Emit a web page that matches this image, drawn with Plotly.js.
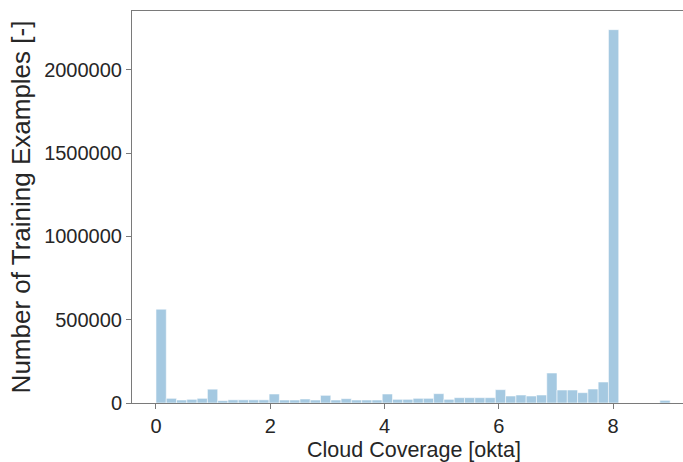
<!DOCTYPE html>
<html>
<head>
<meta charset="utf-8">
<script src="https://cdn.plot.ly/plotly-3.0.1.min.js"></script>
<style>
  html, body { margin: 0; padding: 0; background: #fff; }
  #chart { width: 683px; height: 462px; }
</style>
</head>
<body>
<div id="chart"></div>
<script>
// Histogram of cloud coverage observations: 50 equal bins over 0..9 okta
const binStart = 0;
const binEnd = 9;
const binCount = 50;

// Number of training examples in each bin
const counts = [
  563000, 28000, 18000, 22000, 28000, 83000, 14000, 19000, 19000, 19000,
  19000, 54000, 18000, 18000, 24000, 18000, 46000, 18000, 26000, 18000,
  18000, 18000, 54000, 22000, 22000, 28000, 28000, 56000, 22000, 32000,
  32000, 32000, 32000, 80000, 42000, 48000, 42000, 48000, 180000, 78000,
  78000, 62000, 84000, 126000, 2240000, 0, 0, 0, 0, 16000
];

const xTickVals = [0, 2, 4, 6, 8];
const xTickText = ['0', '2', '4', '6', '8'];
const yTickVals = [0, 500000, 1000000, 1500000, 2000000];
const yTickText = ['0', '500000', '1000000', '1500000', '2000000'];
const xTitle = 'Cloud Coverage [okta]';
const yTitle = 'Number of Training Examples [-]';

const binWidth = (binEnd - binStart) / binCount;
const binLeft = counts.map((_, i) => binStart + i * binWidth);

const textColor = '#262626';
const spineColor = '#7a7a7a';
const fontFamily = 'Liberation Sans, Arial, sans-serif';

const trace = {
  type: 'bar',
  x: binLeft,
  y: counts,
  width: binWidth,
  offset: 0,
  marker: {
    color: 'rgba(31,119,180,0.4)',
    line: { color: 'rgba(255,255,255,0.55)', width: 1 }
  },
  hoverinfo: 'x+y'
};

const layout = {
  width: 683,
  height: 462,
  margin: { l: 132, r: 0, t: 11, b: 59, pad: 0 },
  paper_bgcolor: '#ffffff',
  plot_bgcolor: '#ffffff',
  showlegend: false,
  bargap: 0,
  font: { family: fontFamily, color: textColor },
  xaxis: {
    range: [-0.42, 9.225],
    tickmode: 'array',
    tickvals: xTickVals,
    ticktext: xTickText,
    ticks: 'outside',
    ticklen: 5,
    tickwidth: 1,
    tickcolor: spineColor,
    tickfont: { size: 20, color: textColor },
    showgrid: false,
    zeroline: false,
    showline: true,
    linecolor: spineColor,
    linewidth: 1,
    mirror: true
  },
  yaxis: {
    range: [0, 2352000],
    tickmode: 'array',
    tickvals: yTickVals,
    ticktext: yTickText,
    ticks: 'outside',
    ticklen: 5,
    tickwidth: 1,
    tickcolor: spineColor,
    tickfont: { size: 20, color: textColor },
    showgrid: false,
    zeroline: false,
    showline: true,
    linecolor: spineColor,
    linewidth: 1,
    title: { text: yTitle, font: { size: 26, color: textColor }, standoff: 6 }
  },
  annotations: [{
    // x-axis label, centred on the full axes span (which runs past the right edge)
    text: xTitle,
    xref: 'paper', yref: 'paper',
    x: 0.512, y: -0.12,
    xanchor: 'center', yanchor: 'middle',
    showarrow: false,
    font: { size: 21.5, color: textColor }
  }]
};

Plotly.newPlot('chart', [trace], layout, { displayModeBar: false, staticPlot: true });
</script>
</body>
</html>
